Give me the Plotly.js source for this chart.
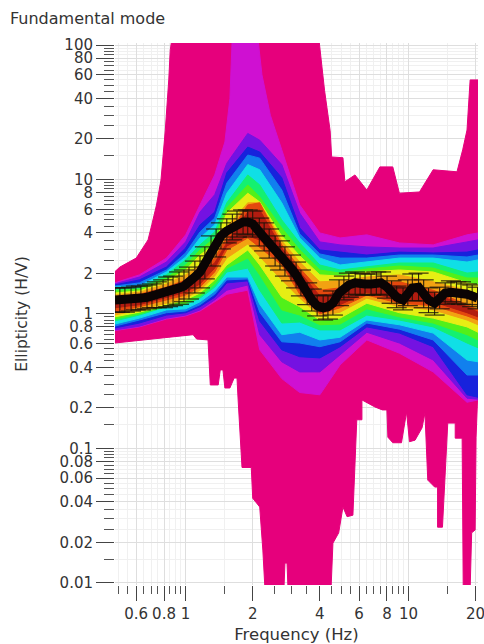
<!DOCTYPE html>
<html><head><meta charset="utf-8">
<script src="https://cdn.plot.ly/plotly-3.0.1.min.js"></script>
<style>html,body{margin:0;padding:0;background:#fff}</style></head>
<body><div id="chart" style="width:484px;height:644px"></div>
<script>
// Envelope of all models (outer pink)
const pinkUpF=[.48,.507,.6,.678,.705,.74,.775,.81,.84,.853,.88,3.92,4.2,4.45,4.52,5.08,5.18,5.75,6.5,7.44,8.5,9.1,11.2,12.9,16.5,17.5,18.3,18.9,20.5];
const pinkUpV=[2.05,2.23,2.6,3.55,4.6,6.46,9.9,23,55,92,130,130,46,23,14.7,14.5,9.6,10.8,8.35,12.4,12.4,7.9,8.07,11.8,11.4,16.6,23.3,55,55];
const pinkLoF=[.48,1.08,1.12,1.26,1.29,1.40,1.43,1.47,1.50,1.58,1.65,1.70,1.72,1.79,1.97,2.0,2.15,2.22,2.27,2.76,2.79,2.85,2.88,4.49,4.58,4.86,5.08,5.30,5.63,5.86,6.18,6.18,7.07,7.63,8.0,8.08,8.5,9.3,9.8,10.1,10.7,11.5,11.85,12.2,13.1,13.5,13.5,14.2,15,16.2,16.2,17.4,17.6,18.9,19.2,19.9,20.1,20.4];
const pinkLoV=[.607,.70,.65,.64,.296,.296,.383,.383,.281,.281,.333,.333,.229,.072,.072,.0425,.0366,.0175,.0089,.0089,.014,.014,.0089,.0089,.0197,.0235,.0366,.031,.0318,.163,.163,.229,.203,.193,.193,.121,.11,.11,.186,.112,.115,.142,.183,.058,.0515,.0515,.0259,.0259,.154,.154,.119,.119,.0089,.0089,.0235,.0247,.121,.229];

// Density contour levels: frequency nodes, then upper and lower limit of each colour
const bandF=[.48,.62,.82,1,1.16,1.35,1.53,1.9,2.15,2.7,3.25,4,4.93,6.5,9.1,12.9,18.3,20.5];
const upMagentaF=[.48,.62,.82,1,1.16,1.35,1.5,1.58,1.62,2.1,2.2,2.4,2.7,3.25,4,4.93,6.5,9.1,12.9,18.3,20.5];
const upMagenta=[1.70,1.95,2.6,3.87,6.46,10.8,19,40,120,120,60,30,16.6,6.46,4.0,3.67,3.87,3.37,3.26,3.87,4.0];
const upPurple=[1.67,1.88,2.43,3.43,5.72,7.7,13.2,22,19.6,12.9,5.62,3.43,3.26,3.15,3.09,3.09,3.43,3.55];
const upBlue=[1.64,1.79,2.23,3.09,4.59,5.72,11.2,17.4,16,10.3,4.36,2.99,2.88,2.74,2.88,2.84,2.88,2.99];
const upAzure=[1.61,1.70,2.12,2.84,4.07,5.16,9.4,15.2,14.4,8.35,3.93,2.79,2.6,2.6,2.74,2.74,2.65,2.74];
const upCyan=[1.58,1.61,2.05,2.65,3.67,4.59,7.9,12.9,11.8,6.7,3.67,2.6,2.31,2.43,2.6,2.6,2.43,2.52];
const upGreen=[1.53,1.56,1.95,2.52,3.26,4.07,6.7,10.8,9.1,5,3.37,2.31,2.12,2.23,2.39,2.39,2.01,2.05];
const upLime=[1.48,1.53,1.85,2.31,2.99,3.67,6.15,9.1,7.4,4.36,2.99,2.12,2.01,2.16,2.27,2.19,1.85,1.85];
const upYellow=[1.43,1.48,1.76,2.12,2.74,3.31,5.62,7.9,6.8,3.8,2.7,1.95,1.91,2.05,2.12,2.05,1.70,1.64];
const upOrange=[1.38,1.45,1.67,1.95,2.31,2.88,4.43,6.7,6.7,3.49,2.43,1.73,1.76,1.88,1.95,1.73,1.5,1.38];
const upRed=[1.33,1.4,1.58,1.79,2.12,2.6,3.73,6.46,6.7,3.26,2.19,1.5,1.56,1.7,1.73,1.5,1.17,1.07];
const upDark=[1.29,1.36,1.5,1.67,2.01,2.39,3.37,5.72,5.93,3.09,2.05,1.36,1.45,1.64,1.61,1.43,1.13,1.03];
const loDark=[1.11,1.17,1.33,1.45,1.67,2.19,3.2,3.8,3.55,2.43,1.5,1.03,1.17,1.45,1.27,1.23,1.02,.95];
const loRed=[1.03,1.13,1.27,1.38,1.58,2.05,2.99,3.67,3.09,2.31,1.4,1,1.11,1.38,1.2,1.15,.965,.9];
const loOrange=[.98,1.07,1.2,1.31,1.5,1.91,2.6,3.31,2.65,1.79,1.31,.965,1.03,1.31,1.13,1.07,.9,.83];
const loYellow=[.95,1.03,1.17,1.27,1.43,1.79,2.31,2.99,2.31,1.33,1.13,.9,.93,1.2,1.02,.93,.8,.73];
const loLime=[.915,1,1.15,1.2,1.36,1.67,2.19,2.6,1.95,1.07,.98,.83,.84,1.09,.95,.855,.7,.64];
const loGreen=[.885,.98,1.13,1.17,1.31,1.58,2.05,2.19,1.5,.855,.87,.76,.76,.98,.9,.8,.607,.56];
const loCyan=[.84,.93,1.07,1.09,1.23,1.48,1.88,1.88,1.18,.7,.73,.64,.67,.9,.83,.72,.454,.44];
const loAzure=[.81,.9,1.02,1.05,1.17,1.4,1.79,1.82,1.03,.62,.607,.57,.62,.855,.77,.64,.351,.351];
const loBlue=[.785,.855,.98,1.02,1.13,1.33,1.7,1.76,.885,.54,.48,.47,.57,.8,.72,.57,.25,.24];
const loPurple=[.76,.81,.93,.98,1.07,1.27,1.5,1.64,.7,.44,.37,.37,.495,.73,.607,.454,.236,.232];
const loMagenta=[.75,.8,.915,.965,1.05,1.23,1.4,1.5,.54,.33,.26,.25,.417,.64,.51,.37,.22,.229];

// Measured ellipticity curve with its error bars
const curveF=[.482,.507,.534,.569,.598,.630,.671,.706,.743,.792,
 .834,.878,.934,.983,1.035,1.10,1.16,1.22,1.30,1.37,
 1.44,1.53,1.62,1.70,1.81,1.90,2.00,2.14,2.25,2.37,
 2.52,2.65,2.79,2.97,3.13,3.29,3.51,3.68,3.89,4.14,
 4.35,4.58,4.88,5.13,5.40,5.76,6.06,6.38,6.79,7.17,
 7.53,8.01,8.40,8.85,9.45,9.93,10.4,11.1,11.7,12.3,
 13.1,13.8,14.6,15.5,16.4,17.2,18.3,19.3,20.4];
const curveV=[1.27,1.27,1.27,1.29,1.31,1.31,1.33,1.36,1.38,1.40,
 1.45,1.48,1.56,1.61,1.70,1.88,2.05,2.39,2.94,3.37,
 3.8,4.14,4.43,4.67,4.83,4.83,4.67,4.07,3.73,3.37,
 2.94,2.7,2.47,2.19,1.95,1.7,1.4,1.27,1.15,1.11,
 1.13,1.2,1.43,1.56,1.64,1.7,1.67,1.67,1.67,1.7,
 1.7,1.58,1.45,1.33,1.27,1.4,1.56,1.58,1.4,1.27,
 1.2,1.31,1.43,1.45,1.45,1.43,1.4,1.36,1.31];
const curveHi=[1.56,1.56,1.56,1.58,1.61,1.61,1.64,1.67,1.73,1.79,
 1.88,1.91,2.05,2.12,2.23,2.47,2.7,3.15,3.8,4.28,
 4.75,5.09,5.52,5.82,5.93,5.93,5.82,5.16,4.75,4.28,
 3.8,3.49,3.15,2.74,2.43,2.12,1.7,1.53,1.38,1.36,
 1.38,1.48,1.79,1.91,2.01,2.05,2.01,1.98,1.98,2.05,
 2.05,1.91,1.76,1.61,1.56,1.79,1.98,2.01,1.79,1.56,
 1.45,1.58,1.7,1.76,1.73,1.73,1.67,1.64,1.58];
const curveLo=[1.03,1.03,1.03,1.05,1.07,1.07,1.09,1.11,1.11,1.11,
 1.13,1.15,1.18,1.23,1.29,1.43,1.56,1.82,2.27,2.65,
 3.04,3.37,3.55,3.73,3.93,3.87,3.73,3.2,2.94,2.6,
 2.27,2.12,1.91,1.76,1.56,1.36,1.17,1.05,.965,.9,
 .915,.98,1.15,1.27,1.33,1.4,1.38,1.38,1.38,1.4,
 1.38,1.31,1.2,1.11,1.07,1.15,1.25,1.25,1.11,1.02,
 .98,1.09,1.18,1.23,1.2,1.18,1.17,1.13,1.09];

const xLabels=[0.6,0.8,1,2,4,6,8,10,20];
const xMinor=[.5,.55,.65,.7,.75,.85,.9,.95,1.5,2.5,3,3.5,4.5,5,5.5,6.5,7,7.5,8.5,9,9.5,15];
const yLabels=[100,80,60,40,20,10,8,6,4,2,1,.8,.6,.4,.2,.1,.08,.06,.04,.02,.01];
const yMinor=[95,90,85,75,70,65,55,50,45,35,30,25,15,9.5,9,8.5,7.5,7,6.5,5.5,5,4.5,3.5,3,2.5,1.5,.95,.9,.85,.75,.7,.65,.55,.5,.45,.35,.3,.25,.15,.095,.09,.085,.075,.07,.065,.055,.05,.045,.035,.03,.025,.015];

const levels=[
 [upPurple,loPurple,'#7412e2'],[upBlue,loBlue,'#1722dc'],
 [upAzure,loAzure,'#1180ee'],[upCyan,loCyan,'#10dfe6'],[upGreen,loGreen,'#14f070'],
 [upLime,loLime,'#52f01a'],[upYellow,loYellow,'#e6ee14'],[upOrange,loOrange,'#f2a212'],
 [upRed,loRed,'#e4480e'],[upDark,loDark,'#b21c10']];

function poly(fu,vu,fl,vl,color){
  return {type:'scatter',mode:'lines',x:fu.concat(fl.slice().reverse()),y:vu.concat(vl.slice().reverse()),
    fill:'toself',fillcolor:color,line:{color:color,width:1},hoverinfo:'skip',showlegend:false};
}
const traces=[poly(pinkUpF,pinkUpV,pinkLoF,pinkLoV,'#e6007c'),poly(upMagentaF,upMagenta,bandF,loMagenta,'#cf10d2')];
levels.forEach(l=>traces.push(poly(bandF,l[0],bandF,l[1],l[2])));
traces.push({type:'scatter',mode:'lines',x:curveF,y:curveV,showlegend:false,
  line:{color:'#0a0404',width:9},
  error_y:{type:'data',symmetric:false,array:curveHi.map((h,i)=>h-curveV[i]),arrayminus:curveLo.map((l,i)=>curveV[i]-l),
    color:'#1a1208',thickness:1,width:10}});

const fam='"DejaVu Sans",sans-serif';
const tickFont={family:fam,size:15,color:'#333'};
const layout={
  width:484,height:644,paper_bgcolor:'#fff',plot_bgcolor:'#fff',showlegend:false,
  margin:{l:115,r:6,t:43,b:59},
  title:{text:'Fundamental mode',x:10/484,xanchor:'left',y:1-18/644,yanchor:'middle',font:{family:fam,size:16,color:'#333'}},
  xaxis:{type:'log',range:[Math.log10(.482),Math.log10(20.5)],tickmode:'array',tickvals:xLabels,ticktext:xLabels.map(String),
    ticks:'outside',ticklen:15,tickcolor:'#444',tickwidth:1,tickfont:tickFont,ticklabeloverflow:'allow',showline:false,zeroline:false,
    showgrid:true,gridcolor:'#dedede',gridwidth:1,
    minor:{tickmode:'array',tickvals:xMinor,ticks:'outside',ticklen:8,tickcolor:'#555',tickwidth:1,showgrid:true,gridcolor:'#f0f0f0'},
    title:{text:'Frequency (Hz)',font:{family:fam,size:16.5,color:'#333'},standoff:6}},
  yaxis:{type:'log',range:[Math.log10(.00962),Math.log10(103.5)],tickmode:'array',tickvals:yLabels,ticktext:yLabels.map(String),
    ticks:'outside',ticklen:18,tickcolor:'#444',tickwidth:1,tickfont:tickFont,showline:false,zeroline:false,
    showgrid:true,gridcolor:'#dedede',gridwidth:1,
    minor:{tickmode:'array',tickvals:yMinor,ticks:'outside',ticklen:10,tickcolor:'#555',tickwidth:1,showgrid:true,gridcolor:'#f0f0f0'},
    title:{text:'Ellipticity (H/V)',font:{family:fam,size:15.5,color:'#333'},standoff:28}}
};
Plotly.newPlot('chart',traces,layout,{displayModeBar:false,staticPlot:true});
</script></body></html>
